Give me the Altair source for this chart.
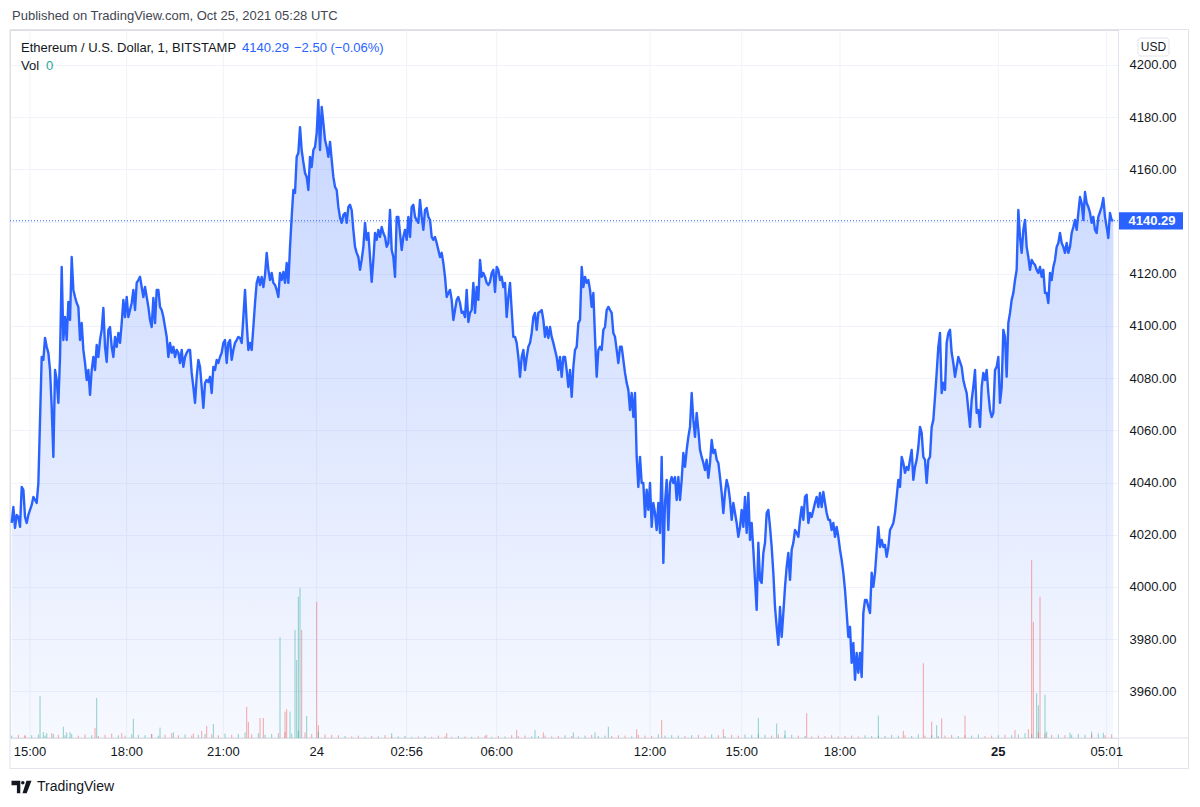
import altair as alt
import pandas as pd

# ---------------- data ----------------
seg1 = [4024.5, 4030.6, 4022.6, 4027.6, 4026.8, 4023.0, 4038.3, 4037.2, 4026.8, 4024.5,
        4027.6, 4029.5, 4031.4, 4034.5, 4033.3, 4032.2, 4039.8, 4064.0, 4088.1, 4087.0,
        4095.4, 4092.0, 4089.7, 4083.1, 4069.0, 4049.8, 4083.1, 4079.3, 4070.5, 4088.1,
        4122.6, 4094.6, 4103.4, 4094.6, 4109.2, 4102.3, 4126.4, 4113.8, 4111.1, 4108.8,
        4107.3, 4094.6, 4101.1, 4090.8, 4085.8, 4079.3, 4083.1, 4073.6, 4083.1, 4088.1,
        4083.1, 4092.7, 4088.1, 4094.6, 4098.5, 4106.9, 4092.0, 4086.2, 4098.5, 4099.6,
        4092.0, 4088.1, 4095.8, 4092.0, 4097.3, 4093.5, 4101.1, 4110.0, 4103.4, 4111.1,
        4103.4, 4106.1, 4108.8, 4113.8, 4106.1, 4116.5, 4117.6, 4118.8, 4114.9, 4111.1,
        4114.9, 4111.1, 4107.3, 4102.3, 4099.6, 4110.7, 4101.1, 4113.8, 4113.8, 4107.3,
        4106.1, 4103.4, 4099.6, 4095.8, 4088.1, 4093.5, 4089.7, 4092.0, 4088.1, 4090.8,
        4089.7, 4085.8, 4090.8, 4084.3, 4088.1, 4089.7, 4090.8, 4090.8, 4082.0, 4076.6,
        4070.5, 4080.5, 4087.0, 4084.3, 4076.6, 4068.6, 4078.2, 4079.3, 4078.5, 4080.5,
        4074.3, 4084.3, 4083.1, 4087.0, 4085.8, 4088.1, 4089.7, 4093.5, 4094.6, 4085.8,
        4093.5, 4094.6, 4087.0, 4090.8, 4093.5, 4094.6, 4095.8]
seg2 = [4095.4, 4093.5, 4103.4, 4113.8, 4101.1, 4090.8, 4093.5, 4090.8, 4099.6, 4108.8,
        4116.5, 4118.8, 4115.7, 4118.8, 4114.9, 4119.5, 4128.0, 4121.5, 4117.6, 4120.3,
        4116.5, 4115.7, 4113.8, 4111.1, 4120.3, 4117.6, 4120.7, 4116.5, 4124.1, 4116.5,
        4130.3, 4141.8, 4152.1, 4151.0, 4164.8, 4166.3, 4176.2, 4167.4, 4162.8, 4158.6,
        4157.1, 4152.1, 4164.8, 4160.9, 4167.4, 4168.6, 4173.9, 4186.6, 4167.4, 4183.9,
        4177.8, 4171.3, 4168.6, 4164.8, 4170.5, 4163.6, 4157.1, 4153.3, 4152.1, 4145.6,
        4141.4, 4139.5, 4142.5, 4143.3, 4139.5, 4145.6, 4146.4, 4144.4, 4136.8, 4130.3,
        4128.0, 4126.4, 4121.5, 4125.3, 4130.3, 4139.5, 4133.0, 4135.6, 4126.4, 4116.9,
        4125.3, 4135.6, 4133.0, 4136.8, 4134.1, 4137.9, 4135.6, 4134.1, 4130.3, 4131.8,
        4144.4, 4129.1, 4126.4, 4118.8, 4141.8, 4141.8, 4135.6, 4129.1, 4134.1, 4136.8,
        4133.0, 4141.8, 4134.1, 4145.6, 4146.4, 4141.8, 4140.6, 4139.5, 4148.3, 4141.8,
        4136.8, 4144.4, 4145.2, 4141.8, 4140.6, 4134.1, 4133.0, 4134.1, 4131.8, 4129.1,
        4126.4, 4128.0, 4124.1, 4118.8, 4111.1, 4112.6, 4113.8, 4110.0, 4102.3, 4106.1,
        4110.0, 4111.1]
seg3 = [4108.8, 4105.0, 4105.4, 4103.4, 4113.8, 4101.5, 4105.0, 4106.1, 4116.5, 4105.0,
        4114.9, 4110.0, 4125.3, 4118.8, 4120.3, 4118.8, 4116.5, 4115.7, 4116.9, 4120.3,
        4121.5, 4113.0, 4122.6, 4121.5, 4117.6, 4118.8, 4114.9, 4116.5, 4103.4, 4111.1,
        4116.5, 4106.1, 4095.8, 4095.8, 4093.5, 4088.1, 4080.5, 4088.1, 4090.8, 4083.1,
        4088.1, 4092.0, 4093.5, 4097.3, 4103.4, 4105.0, 4098.5, 4105.0, 4105.4, 4106.1,
        4102.3, 4095.8, 4099.6, 4095.4, 4099.6, 4095.8, 4093.5, 4090.8, 4088.1, 4083.1,
        4088.1, 4080.5, 4088.1, 4088.1, 4083.1, 4076.6, 4083.1, 4072.8, 4084.3, 4090.8,
        4092.0, 4101.1, 4102.3, 4122.6, 4114.9, 4118.8, 4116.5, 4117.6, 4113.8, 4107.3,
        4112.6, 4095.8, 4080.5, 4090.8, 4092.0, 4090.8, 4098.5, 4099.6, 4106.1, 4107.3,
        4106.1, 4105.0, 4097.3, 4095.8, 4090.8, 4085.8, 4092.0, 4092.0, 4087.0, 4082.0,
        4078.2, 4075.5, 4067.8, 4074.3, 4065.1, 4074.3, 4049.8, 4038.3, 4049.8, 4039.8,
        4039.8, 4026.8, 4037.2, 4029.5, 4039.8, 4023.0, 4032.2, 4028.3, 4021.8, 4032.2,
        4020.7, 4049.8, 4009.2, 4032.2, 4041.0, 4021.8, 4039.8, 4042.1, 4039.8, 4042.1,
        4033.3, 4042.1]
seg4 = [4033.3, 4041.0, 4051.3, 4046.0, 4052.5, 4057.5, 4061.3, 4074.3, 4064.0, 4057.5,
        4066.7, 4060.2, 4052.5, 4049.8, 4047.5, 4044.8, 4048.7, 4041.8, 4047.5, 4056.3,
        4051.3, 4052.5, 4048.7, 4047.5, 4042.1, 4036.0, 4028.3, 4036.0, 4041.0, 4038.3,
        4033.3, 4025.7, 4032.2, 4028.3, 4024.5, 4019.2, 4023.0, 4029.5, 4023.0, 4034.5,
        4020.7, 4036.0, 4018.0, 4024.5, 4014.2, 4002.7, 3991.2, 4016.9, 4002.7, 4001.5,
        4013.0, 4016.9, 4028.3, 4029.5, 4023.0, 4015.3, 4005.4, 3992.3, 3984.7, 3977.8,
        3992.3, 3980.8, 3990.0, 4000.0, 4007.7, 4013.0, 4002.7, 4014.2, 4016.9, 4021.8,
        4020.7, 4019.2, 4025.7, 4030.6, 4025.7, 4034.5, 4035.3, 4024.5, 4028.3, 4026.8,
        4029.5, 4032.2, 4034.5, 4030.6, 4036.0, 4030.6, 4036.4, 4032.2, 4028.3, 4025.7,
        4025.7, 4021.8, 4024.5, 4019.2, 4023.0, 4019.2, 4014.2, 4010.3, 4005.4, 3998.9,
        3990.0, 3980.8, 3984.7, 3970.9, 3978.5, 3964.4, 3974.7, 3967.1, 3974.7, 3965.5,
        3990.0, 3995.0, 3995.0, 3992.3, 3990.0, 4005.4, 4000.0, 4005.4, 4014.2, 4023.0,
        4015.3, 4018.0, 4015.3, 4016.1, 4011.5, 4015.3, 4021.8, 4023.0, 4024.5, 4028.3,
        4034.5, 4041.0]
seg5 = [4038.3, 4049.8, 4047.5, 4043.7, 4046.0, 4044.8, 4048.7, 4052.5, 4041.0, 4046.0,
        4048.7, 4053.6, 4061.3, 4059.0, 4049.8, 4048.7, 4039.8, 4048.7, 4049.8, 4061.3,
        4064.0, 4072.8, 4082.0, 4092.0, 4097.3, 4074.3, 4078.2, 4075.5, 4093.5, 4097.3,
        4098.5, 4089.7, 4085.8, 4080.5, 4084.3, 4088.1, 4086.2, 4084.3, 4079.3, 4076.6,
        4074.3, 4067.8, 4061.3, 4071.6, 4076.6, 4083.1, 4066.7, 4067.8, 4061.3, 4076.6,
        4082.0, 4079.3, 4083.1, 4074.3, 4067.8, 4065.1, 4066.7, 4083.1, 4084.3, 4088.1,
        4070.5, 4076.6, 4098.5, 4095.8, 4080.5, 4101.1, 4105.0, 4110.0, 4112.6, 4117.6,
        4121.5, 4144.4, 4134.1, 4128.0, 4136.8, 4140.6, 4130.3, 4126.4, 4121.5, 4125.3,
        4124.1, 4123.4, 4121.5, 4120.3, 4122.6, 4118.8, 4121.5, 4112.6, 4112.6, 4108.8,
        4120.3, 4117.6, 4122.6, 4125.3, 4130.3, 4131.8, 4135.6, 4131.8, 4130.3, 4128.0,
        4131.8, 4128.0, 4130.3, 4135.6, 4137.9, 4140.6, 4136.8, 4143.3, 4149.4, 4147.1,
        4140.6, 4151.3, 4147.1, 4145.6, 4143.3, 4139.5, 4141.8, 4136.8, 4135.6, 4141.8,
        4143.7, 4145.6, 4149.0, 4141.8, 4137.9, 4133.7, 4143.3, 4140.6, 4140.29]

price = seg1 + seg2 + seg3 + seg4 + seg5
bar_index = list(range(len(price)))
LAST = price[-1]
CHANGE_TEXT = "\u22122.50 (\u22120.06%)"

tick_idx = [11, 69, 127, 183, 237, 291, 383, 438, 497, 592, 657]
tick_labels = ["15:00", "18:00", "21:00", "24", "02:56", "06:00",
               "12:00", "15:00", "18:00", "25", "05:01"]
tick_bold = [False, False, False, False, False, False,
             False, False, False, True, False]
price_ticks = [3960, 3980, 4000, 4020, 4040, 4060, 4080, 4100,
               4120, 4140, 4160, 4180, 4200]

# notable volume bars
vol_idx = [8, 17, 19, 21, 25, 31, 33, 35, 50, 51,
           66, 73, 84, 89, 97, 109, 114, 117, 121, 141,
           142, 149, 151, 161, 164, 165, 167, 170, 171, 172,
           173, 174, 177, 183, 184, 228, 261, 285, 303, 314,
           319, 337, 350, 358, 375, 390, 427, 448, 459, 464,
           477, 520, 535, 547, 552, 555, 558, 572, 602, 610,
           612, 613, 615, 616, 617, 620, 621, 635, 648, 655]
vol_val = [8, 105, 15, 12, 10, 28, 14, 15, 25, 100,
           12, 48, 10, 26, 14, 11, 18, 30, 35, 78,
           40, 50, 50, 252, 66, 72, 66, 270, 195, 353,
           375, 270, 55, 340, 32, 12, 12, 8, 20, 20,
           14, 14, 14, 28, 22, 45, 22, 50, 36, 19,
           62, 56, 18, 187, 41, 32, 49, 56, 20, 22,
           445, 290, 112, 82, 353, 108, 16, 13, 16, 13]
vol_dir = ["d", "u", "u", "u", "u", "u", "u", "u", "d", "u",
           "d", "u", "u", "u", "u", "d", "d", "d", "u", "d",
           "d", "d", "d", "u", "d", "d", "u", "u", "u", "u",
           "u", "d", "u", "d", "d", "u", "d", "d", "d", "u",
           "d", "u", "u", "u", "d", "d", "d", "u", "u", "u",
           "d", "u", "d", "d", "d", "u", "d", "d", "d", "d",
           "d", "d", "u", "u", "d", "u", "u", "u", "u", "u"]
# low background volume, every 4th bar
fuzz_vol = [6, 8, 5, 7, 9, 6, 12, 8, 7, 10,
            6, 9, 7, 5, 8, 11, 7, 6, 9, 8,
            7, 10, 6, 8, 12, 7, 9, 6, 8, 10,
            9, 7, 11, 8, 10, 14, 9, 12, 8, 10,
            12, 15, 11, 18, 14, 10, 16, 9, 8, 7,
            5, 4, 6, 3, 5, 4, 7, 3, 4, 5,
            3, 4, 5, 3, 6, 4, 3, 5, 4, 3,
            4, 6, 3, 5, 4, 7, 5, 6, 4, 5,
            6, 4, 5, 7, 5, 4, 6, 8, 5, 6,
            5, 7, 6, 4, 8, 6, 5, 9, 6, 7,
            6, 5, 7, 8, 6, 9, 7, 5, 8, 6,
            9, 7, 10, 8, 6, 9, 7, 8, 6, 5,
            4, 6, 5, 7, 4, 5, 6, 4, 7, 5,
            6, 5, 8, 6, 7, 5, 9, 6, 7, 5,
            6, 8, 5, 7, 6, 9, 5, 6, 7, 8,
            7, 9, 12, 10, 14, 11, 8, 9, 7, 8,
            10, 8, 9, 11, 7, 9]
fuzz_idx = list(range(0, 661, 4))
fuzz_dir = ["u" if i == 0 or price[i] >= price[i - 1] else "d" for i in fuzz_idx]

df_price = pd.DataFrame({"i": bar_index, "p": price})
df_vol = pd.DataFrame({"i": vol_idx + fuzz_idx,
                       "v": vol_val + fuzz_vol,
                       "d": vol_dir + fuzz_dir})
df_ticks = pd.DataFrame({"i": tick_idx, "lab": tick_labels, "b": tick_bold})
df_one = pd.DataFrame({"k": [0]})

# ---------------- styling ----------------
FONT = "Liberation Sans"
TXT = "#131722"
GRID = "#f0f3fa"
BORDER = "#e0e3eb"
BLUE = "#2962ff"
UP = "#26a69a"
DOWN = "#ef5350"

W, H = 1108, 708
X_DOM = [-1.02, 663.8]
Y_DOM = [3942.1, 4213.4]
V_DOM = [0, 1770]

xs = alt.Scale(domain=X_DOM, nice=False, zero=False)
ys = alt.Scale(domain=Y_DOM, nice=False, zero=False)

y_axis = alt.Axis(orient="right", values=price_ticks, format=".2f", grid=True,
                  gridColor=GRID, domain=False, ticks=False, tickSize=0,
                  labelPadding=11, labelAlign="left", labelBaseline="middle",
                  labelFont=FONT, labelFontSize=13, labelColor=TXT,
                  labelFlush=False, labelOverlap=False, title=None)

# vertical grid lines and time labels, placed through the x scale
vgrid = alt.Chart(df_ticks).mark_rule(color=GRID, strokeWidth=1).encode(
    x=alt.X("i:Q", scale=xs, axis=None), y=alt.value(0), y2=alt.value(H))
time_lab = alt.Chart(df_ticks).transform_filter("!datum.b").mark_text(
    font=FONT, fontSize=13, color=TXT, align="center", baseline="middle").encode(
    x=alt.X("i:Q", scale=xs, axis=None), y=alt.value(H + 14), text="lab:N")
time_lab_b = alt.Chart(df_ticks).transform_filter("datum.b").mark_text(
    font=FONT, fontSize=13, color=TXT, fontWeight="bold", align="center",
    baseline="middle").encode(
    x=alt.X("i:Q", scale=xs, axis=None), y=alt.value(H + 14), text="lab:N")

grad = alt.Gradient(
    gradient="linear",
    stops=[alt.GradientStop(color="rgba(41,98,255,0.04)", offset=0),
           alt.GradientStop(color="rgba(41,98,255,0.26)", offset=1)],
    x1=1, x2=1, y1=1, y2=0)

area = alt.Chart(df_price).mark_area(color=grad, line=False).encode(
    x=alt.X("i:Q", scale=xs, axis=None),
    y=alt.Y("p:Q", scale=ys, axis=y_axis),
    y2=alt.datum(Y_DOM[0]),
)

vol = alt.Chart(df_vol).mark_rule(strokeWidth=1, opacity=0.5).encode(
    x=alt.X("i:Q", scale=xs, axis=None),
    y=alt.Y("v:Q", scale=alt.Scale(domain=V_DOM, nice=False), axis=None),
    y2=alt.datum(0),
    color=alt.Color("d:N", scale=alt.Scale(domain=["u", "d"], range=[UP, DOWN]),
                    legend=None),
)

line = alt.Chart(df_price).mark_line(color=BLUE, strokeWidth=2.4, strokeJoin="round").encode(
    x=alt.X("i:Q", scale=xs, axis=None),
    y=alt.Y("p:Q", scale=ys, axis=None),
)

last_rule = alt.Chart(df_one).mark_rule(color=BLUE, strokeDash=[1, 2], strokeWidth=1).encode(
    y=alt.YDatum(LAST, scale=ys, axis=None),
)

RECT_PATH = "M-1,-0.27L1,-0.27L1,0.27L-1,0.27Z"
price_box = alt.Chart(df_one).mark_point(shape=RECT_PATH, filled=True, size=4096,
                                         color=BLUE, opacity=1, strokeWidth=0).encode(
    x=alt.value(1141),
    y=alt.YDatum(LAST, scale=ys, axis=None),
)
price_txt = alt.Chart(df_one).mark_text(text=f"{LAST:.2f}", color="white", font=FONT,
                                        fontSize=13, fontWeight="bold", align="center",
                                        baseline="middle").encode(
    x=alt.value(1142),
    y=alt.YDatum(LAST, scale=ys, axis=None),
)


def rule(x1, x2, y1, y2):
    return alt.Chart(df_one).mark_rule(color=BORDER, strokeWidth=1).encode(
        x=alt.value(x1), x2=alt.value(x2), y=alt.value(y1), y2=alt.value(y2))


borders = [
    rule(0, 1178.5, -0.5, -0.5),
    rule(0, 1178.5, 708, 708),
    rule(0, 1178.5, 738.5, 738.5),
    rule(0, 0, -0.5, 738.5),
    rule(1108.5, 1108.5, -0.5, 738.5),
    rule(1178.5, 1178.5, -0.5, 738.5),
]


def label(text, x, y, color=TXT, size=13, weight="normal", align="left"):
    return alt.Chart(df_one).mark_text(text=text, color=color, font=FONT, fontSize=size,
                                       fontWeight=weight, align=align,
                                       baseline="middle").encode(
        x=alt.value(x), y=alt.value(y))


usd_box = alt.Chart(df_one).mark_rect(fill="white", stroke=BORDER, strokeWidth=1,
                                      cornerRadius=3).encode(
    x=alt.value(1128), x2=alt.value(1159), y=alt.value(8), y2=alt.value(26))

LOGO_PATH = ("M-1,-0.62L-0.12,-0.62L-0.12,0.62L-0.46,0.62L-0.46,-0.18L-1,-0.18Z "
             "M-0.04,-0.42a0.17,0.17 0 1,0 0.34,0a0.17,0.17 0 1,0 -0.34,0Z "
             "M0.5,-0.62L1,-0.62L0.52,0.62L0.1,0.62Z")
logo = alt.Chart(df_one).mark_point(shape=LOGO_PATH, filled=True, size=400,
                                    color=TXT, opacity=1, strokeWidth=0).encode(
    x=alt.value(11.5), y=alt.value(757))

texts = [
    label("Published on TradingView.com, Oct 25, 2021 05:28 UTC", 2, -14, color="#434651"),
    label("Ethereum / U.S. Dollar, 1, BITSTAMP", 11, 18),
    label(f"{LAST:.2f}", 232, 18, color=BLUE),
    label(CHANGE_TEXT, 284, 18, color=BLUE),
    label("Vol", 11, 36),
    label("0", 36, 36, color=UP),
    usd_box,
    label("USD", 1143.5, 17, size=12, align="center"),
    logo,
    label("TradingView", 27, 757, size=14),
]

chart = alt.layer(
    vgrid, *borders, area, vol, line, last_rule, price_box, price_txt,
    time_lab, time_lab_b, *texts
).resolve_scale(
    y="independent"
).properties(
    width=W, height=H,
    padding={"left": 2, "top": 22, "right": 74, "bottom": 61},
    autosize=alt.AutoSizeParams(type="none"),
    background="white",
).configure_view(strokeWidth=0).configure(font=FONT)

chart.save("out.html", embed_options={"renderer": "svg", "actions": False})
